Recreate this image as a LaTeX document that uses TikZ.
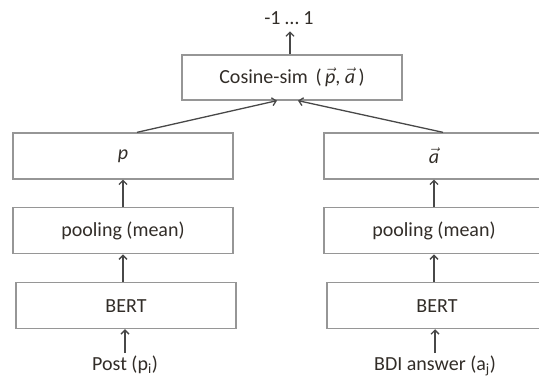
\documentclass[tikz,border=0pt]{standalone}
\usepackage{fontspec}
\setmainfont{Carlito}
\usepackage{tikz}
\usetikzlibrary{arrows.meta,positioning}
\definecolor{txtgray}{RGB}{50,45,40}
\definecolor{boxgray}{RGB}{150,150,150}
\definecolor{arrgray}{RGB}{72,72,72}

\begin{document}
\begin{tikzpicture}[x=1pt,y=-1pt,node distance=27.5pt,>={Straight Barb[length=4pt,width=8pt]},
font=\fontsize{20}{24}\selectfont,text=txtgray,
blk/.style={draw=boxgray,line width=1.3pt,minimum width=220pt,minimum height=46pt,inner sep=0pt},
lbl/.style={inner sep=2pt},
flow/.style={->,draw=arrgray,line width=1.3pt}]
\clip (0,0) rectangle (539,387);
\node[blk] (pl) at (123,156) {\textit{p}};
\node[blk,below=of pl] (poolp) {pooling (mean)};
\node[blk,below=of poolp,xshift=3pt] (bertp) {BERT};
\node[lbl,below=24pt of bertp,xshift=-1pt] (inp) {Post (p\textsubscript{i})};
\node[blk] (ar) at (434,156) {$\vec{\textit{a}}$};
\node[blk,below=of ar] (poola) {pooling (mean)};
\node[blk,below=of poola,xshift=3pt] (berta) {BERT};
\node[lbl,below=24pt of berta,xshift=-2pt] (ina) {BDI answer (a\textsubscript{j})};
\node[blk,minimum height=45pt] (cos) at (292,77.5) {Cosine-sim\ \,(\,$\vec{\textit{p}}$, $\vec{\textit{a}}$\,)};
\node[lbl,above=27pt of cos,xshift=-3pt] (out) {-1 … 1};
\draw[flow] (inp.north)--(inp.north|-bertp.south);
\draw[flow] (bertp.north-|poolp)--(poolp.south);
\draw[flow] (poolp.north)--(pl.south);
\draw[flow] (ina.north)--(ina.north|-berta.south);
\draw[flow] (berta.north-|poola)--(poola.south);
\draw[flow] (poola.north)--(ar.south);
\draw[flow] ([xshift=14pt]pl.north)--([xshift=-15pt]cos.south);
\draw[flow] ([xshift=9pt]ar.north)--([xshift=6pt]cos.south);
\draw[flow] ([xshift=-2pt]cos.north)--++(0,-23);
\end{tikzpicture}
\end{document}
